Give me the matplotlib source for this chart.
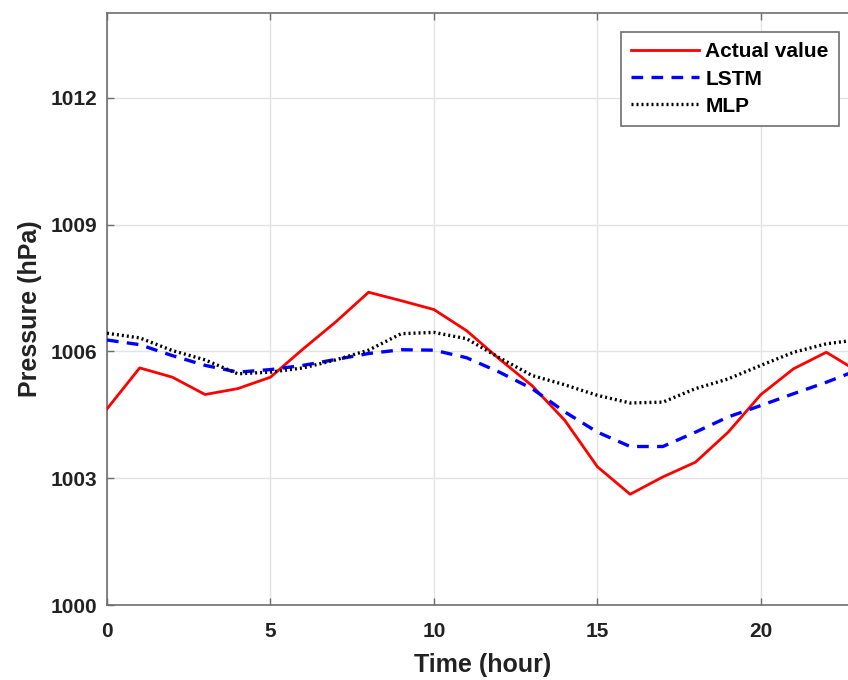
import matplotlib
matplotlib.use("Agg")
import matplotlib.pyplot as plt

hours = list(range(24))
actual = [1004.64, 1005.61, 1005.39, 1004.98, 1005.12, 1005.39, 1006.06, 1006.70,
          1007.40, 1007.20, 1006.99, 1006.49, 1005.82, 1005.19, 1004.37, 1003.27,
          1002.62, 1003.03, 1003.38, 1004.09, 1004.98, 1005.59, 1005.98, 1005.51]
lstm = [1006.27, 1006.16, 1005.90, 1005.67, 1005.51, 1005.57, 1005.67, 1005.81,
        1005.95, 1006.04, 1006.03, 1005.85, 1005.51, 1005.12, 1004.57, 1004.09,
        1003.75, 1003.75, 1004.09, 1004.45, 1004.72, 1005.00, 1005.27, 1005.57]
mlp = [1006.43, 1006.32, 1006.02, 1005.80, 1005.47, 1005.51, 1005.61, 1005.80,
       1006.03, 1006.42, 1006.45, 1006.30, 1005.85, 1005.43, 1005.21, 1004.96,
       1004.78, 1004.80, 1005.12, 1005.35, 1005.67, 1005.98, 1006.18, 1006.28]
xticks = [0, 5, 10, 15, 20]
yticks = [1000, 1003, 1006, 1009, 1012]

plt.rcParams['font.family'] = ['Liberation Sans', 'DejaVu Sans']

fig = plt.figure(figsize=(8.48, 6.8), dpi=100)
ax = fig.add_axes([107/848, 75/680, 752/848, 591.7/680])

ax.plot(hours, actual, color='#ff0000', lw=2.0, label='Actual value', zorder=3)
ax.plot(hours, lstm, color='#0000ff', lw=2.4, ls=(0, (3.5, 2.5)), label='LSTM', zorder=3)
ax.plot(hours, mlp, color='black', lw=2.4, ls=(0, (0.6, 0.9)), label='MLP', zorder=3)

ax.set_xlim(0, 23)
ax.set_ylim(1000, 1014)
ax.set_xticks(xticks)
ax.set_yticks(yticks)
ax.grid(True, color='#e3e3e3', lw=1.0, zorder=0)
ax.set_axisbelow(True)
for s in ax.spines.values():
    s.set_color('#6e6e6e')
    s.set_linewidth(1.2)
ax.tick_params(direction='in', length=5, width=1, color='#6e6e6e',
               top=True, right=True, labelsize=15)
ax.tick_params(axis='x', pad=12)
ax.tick_params(axis='y', pad=7)
for lab in ax.get_xticklabels() + ax.get_yticklabels():
    lab.set_fontweight('bold')
    lab.set_color('#222222')

ax.set_xlabel('Time (hour)', fontsize=18, fontweight='bold', color='#222222', labelpad=9)
ax.set_ylabel('Pressure (hPa)', fontsize=18, fontweight='bold', color='#222222', labelpad=6)

leg = ax.legend(loc='upper right', bbox_to_anchor=(839/848, 1 - 32/680),
                bbox_transform=fig.transFigure, borderaxespad=0,
                prop={'size': 15, 'weight': 'bold'}, fancybox=False,
                framealpha=1, edgecolor='#6e6e6e', handlelength=3.25,
                handletextpad=0.3, labelspacing=0.39, borderpad=0.5)
leg.get_frame().set_linewidth(1.2)

fig.savefig('out.png', dpi=100)
